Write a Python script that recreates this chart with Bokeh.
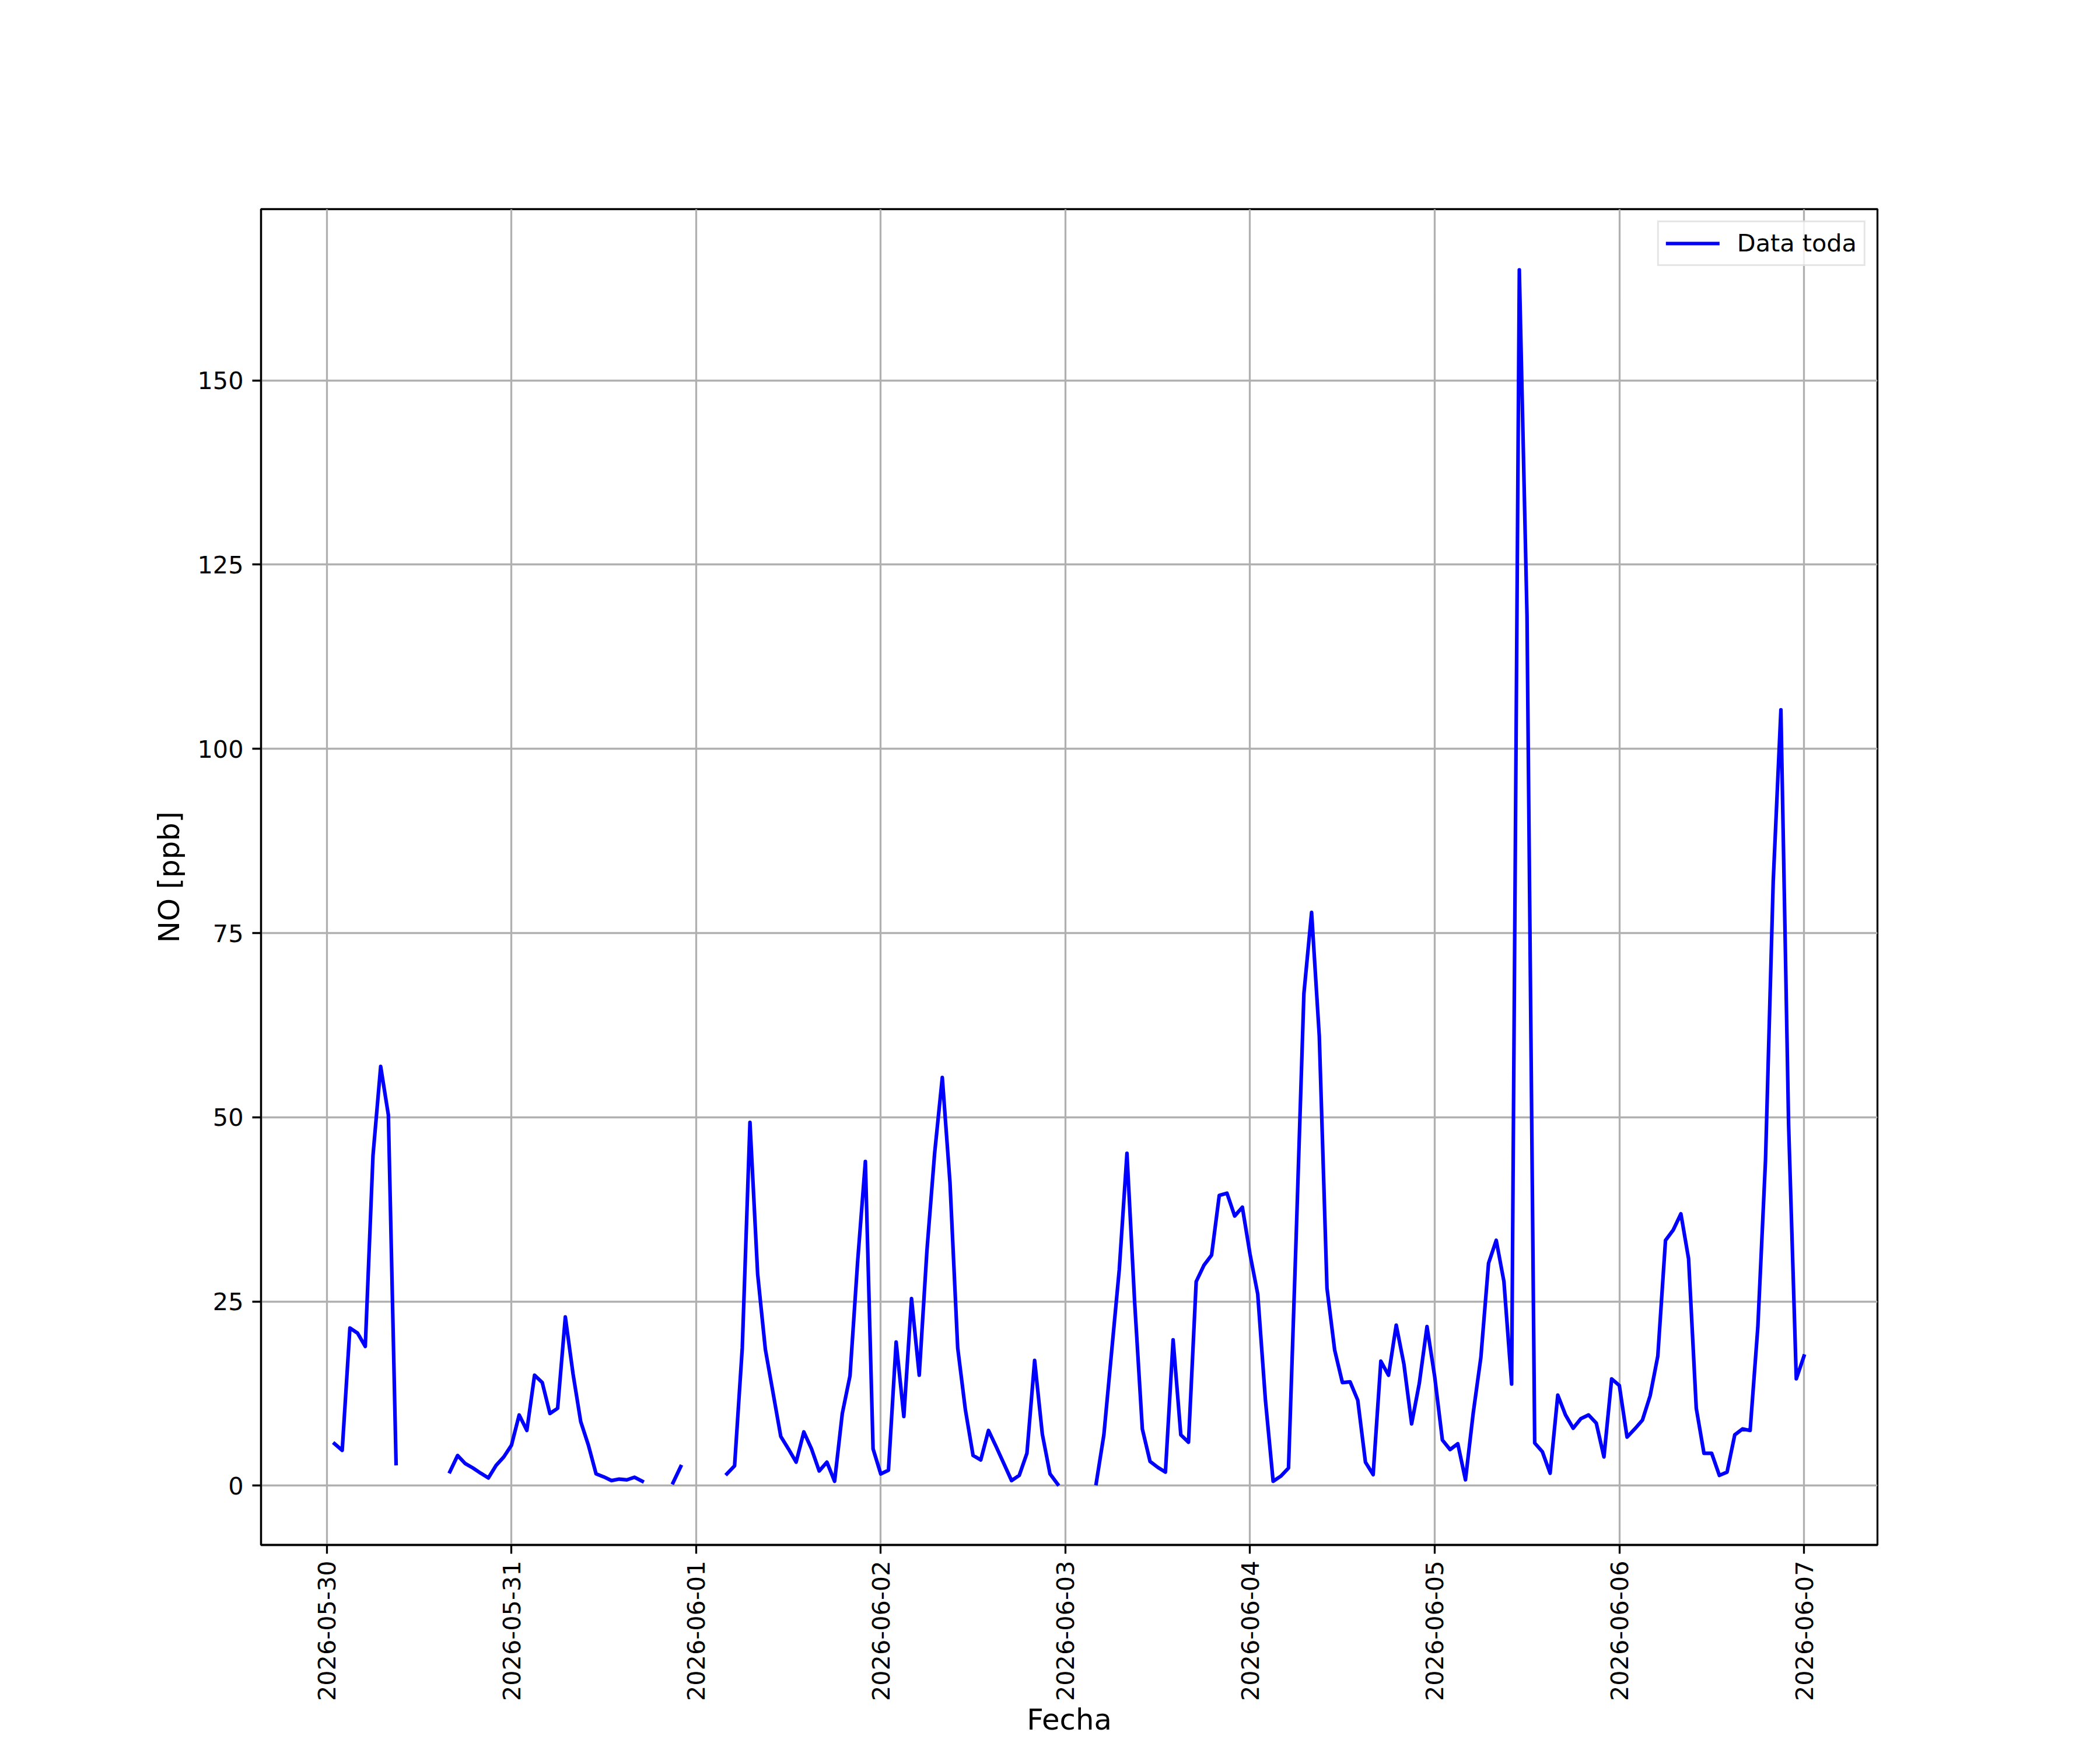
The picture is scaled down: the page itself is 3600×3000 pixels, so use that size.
import math
import numpy as np
import pandas as pd
from bokeh.plotting import figure
from bokeh.models import DaysTicker, DatetimeTickFormatter, SingleIntervalTicker, Range1d
from bokeh.embed import file_html
from bokeh.resources import INLINE

nan = np.nan

# Hourly NO concentrations [ppb], one list per day (hours 00..23); nan = missing
no_0530 = [nan, 5.7, 4.8, 21.4, 20.7, 18.9, 44.8, 56.9, 50.3, 3.0, nan, nan,
           nan, nan, nan, nan, 1.9, 4.1, 3.0, 2.4, 1.7, 1.05, 2.75, 3.9]
no_0531 = [5.5, 9.6, 7.5, 15.0, 14.0, 9.8, 10.5, 22.9, 15.2, 8.7, 5.5, 1.6,
           1.2, 0.7, 0.9, 0.8, 1.15, 0.6, nan, nan, nan, 0.4, 2.6, nan]
no_0601 = [nan, nan, nan, nan, 1.6, 2.7, 18.7, 49.3, 28.7, 18.5, 12.6, 6.7,
           5.0, 3.2, 7.3, 5.0, 2.0, 3.2, 0.6, 9.8, 14.9, 30.5, 44.0, 5.0]
no_0602 = [1.6, 2.1, 19.5, 9.4, 25.4, 15.0, 31.9, 45.1, 55.4, 41.1, 18.7, 10.3,
           4.1, 3.5, 7.5, 5.3, 3.0, 0.7, 1.4, 4.4, 17.0, 7.0, 1.6, 0.2]
no_0603 = [nan, nan, nan, nan, 0.3, 6.9, 18.1, 29.3, 45.1, 24.9, 7.7, 3.3,
           2.5, 1.85, 19.8, 6.9, 5.9, 27.7, 29.9, 31.3, 39.4, 39.7, 36.6, 37.8]
no_0604 = [31.4, 26.0, 11.6, 0.6, 1.3, 2.4, 34.0, 66.8, 77.8, 61.0, 26.8, 18.4,
           14.0, 14.1, 11.6, 3.2, 1.5, 16.9, 15.0, 21.8, 16.5, 8.4, 13.9, 21.6]
no_0605 = [14.8, 6.2, 4.9, 5.7, 0.8, 9.8, 17.4, 30.2, 33.3, 27.7, 13.8, 165.0,
           118.0, 5.8, 4.6, 1.7, 12.3, 9.6, 7.8, 9.1, 9.6, 8.5, 3.9, 14.5]
no_0606 = [13.6, 6.6, 7.7, 8.9, 12.2, 17.6, 33.3, 34.7, 36.9, 30.8, 10.5, 4.4,
           4.4, 1.4, 1.85, 6.9, 7.7, 7.5, 21.5, 44.2, 82.0, 105.3, 49.0, 14.5]
no_0607 = [17.6]

start_time = "2026-05-30 00:00"
series_label = "Data toda"
x_label = "Fecha"
y_label = "NO [ppb]"
date_format = "%Y-%m-%d"

values = np.array(no_0530 + no_0531 + no_0601 + no_0602 + no_0603 +
                  no_0604 + no_0605 + no_0606 + no_0607, dtype=float)
times = pd.date_range(start_time, periods=len(values), freq="h")

# matplotlib-like autoscale: 5% margins around the valid data
valid = ~np.isnan(values)
t_valid = times[valid]
t0, t1 = t_valid.min(), t_valid.max()
dt = (t1 - t0) * 0.05
v0, v1 = np.nanmin(values), np.nanmax(values)
dv = (v1 - v0) * 0.05

# ---- layout (3600x3000 reference scaled to fit the window) ----
S = 3576 / 3600.0
W, H = 3576, 2980
FL, FR, FT, FB = round(450 * S), round(3240 * S), round(360 * S), round(2670 * S)
FONT = "DejaVu Sans"
TICK_FS = f"{41.7 * S:.1f}px"
LAB_FS = f"{50 * S:.1f}px"
LW = 3.3 * S

p = figure(width=W, height=H, x_axis_type="datetime",
           output_backend="svg", toolbar_location=None,
           x_range=Range1d(t0 - dt, t1 + dt), y_range=Range1d(v0 - dv, v1 + dv),
           min_border_left=FL, min_border_right=W - FR,
           min_border_top=FT, min_border_bottom=H - FB)
p.background_fill_color = "white"
p.border_fill_color = "white"
p.outline_line_color = "black"
p.outline_line_width = LW

p.line(times, values, line_color="blue", line_width=6.25 * S,
       line_join="round", line_cap="square", legend_label=series_label)

# axes
xa = p.xaxis[0]
xa.ticker = DaysTicker(days=list(range(1, 32)))
xa.formatter = DatetimeTickFormatter(days=date_format, months=date_format,
                                     years=date_format, hours=date_format,
                                     context=None)
xa.major_label_orientation = math.pi / 2
xa.major_label_standoff = 12
xa.axis_label = x_label
xa.axis_label_standoff = 0

ya = p.yaxis[0]
ya.ticker = SingleIntervalTicker(interval=25)
ya.major_label_standoff = round(14.6 * S)
ya.axis_label = y_label
ya.axis_label_standoff = 16

for ax in (xa, ya):
    ax.axis_line_color = "black"
    ax.axis_line_width = LW
    ax.major_tick_line_color = "black"
    ax.major_tick_line_width = LW
    ax.major_tick_out = round(14.6 * S)
    ax.major_tick_in = 0
    ax.minor_tick_line_color = None
    ax.major_label_text_font = FONT
    ax.major_label_text_font_size = TICK_FS
    ax.major_label_text_color = "black"
    ax.axis_label_text_font = FONT
    ax.axis_label_text_font_size = LAB_FS
    ax.axis_label_text_font_style = "normal"
    ax.axis_label_text_color = "black"
    ax.axis_label_text_line_height = 1.0

for g in (p.xgrid[0], p.ygrid[0]):
    g.grid_line_color = "#b0b0b0"
    g.grid_line_width = LW

# legend
lg = p.legend[0]
lg.location = "top_right"
lg.margin = 20
lg.padding = 12
lg.label_text_font = FONT
lg.label_text_font_size = TICK_FS
lg.label_text_color = "black"
lg.glyph_width = 92
lg.glyph_height = 38
lg.label_height = 38
lg.label_standoff = 30
lg.border_line_color = "#cccccc"
lg.border_line_width = 3
lg.background_fill_alpha = 0.8

open("out.html", "w").write(file_html(p, INLINE))
